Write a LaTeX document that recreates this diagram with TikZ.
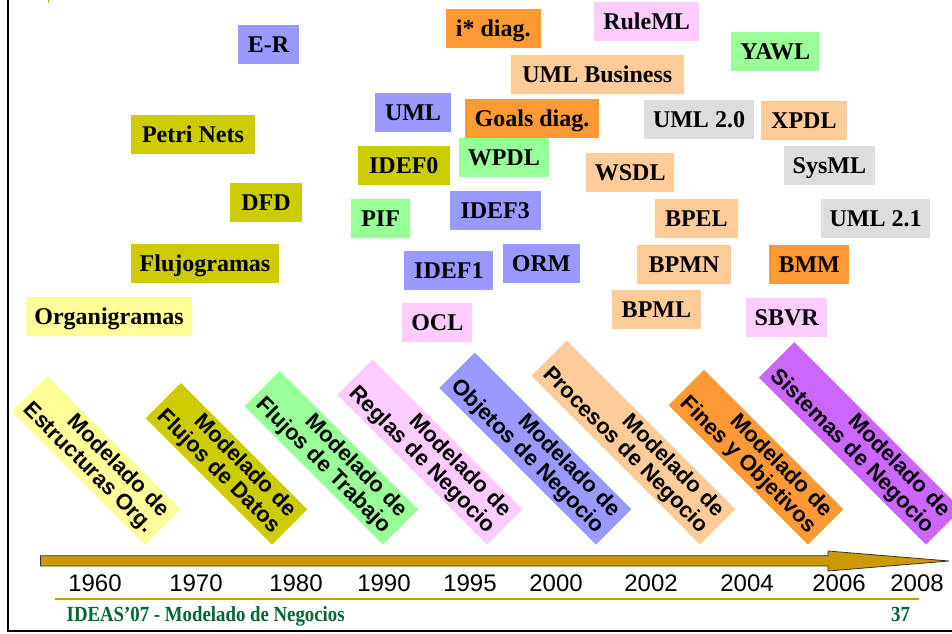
\documentclass[tikz,border=0pt]{standalone}
\usepackage{fontspec}
\setmainfont{Liberation Serif}
\newfontfamily\arialf{Liberation Sans}
\usepackage{graphicx}
\definecolor{cYel}{HTML}{FFFF99}
\definecolor{cOli}{HTML}{CCCC00}
\definecolor{cGrn}{HTML}{99FF99}
\definecolor{cPnk}{HTML}{FFCCFF}
\definecolor{cBlu}{HTML}{9999FF}
\definecolor{cPch}{HTML}{FFCC99}
\definecolor{cOrg}{HTML}{FF9933}
\definecolor{cPur}{HTML}{CC66FF}
\definecolor{cGry}{HTML}{DDDDDD}
\definecolor{cGold}{HTML}{CC9900}
\definecolor{cEdge}{HTML}{333333}
\definecolor{cFoot}{HTML}{006633}
\tikzset{
  lbl/.style={font=\bfseries\fontsize{24}{24}\selectfont, inner sep=0pt,
    minimum height=38.7pt, text height=17pt, text depth=1pt},
  era/.style={rotate=-45, anchor=south east, align=right,
    font=\arialf\bfseries\fontsize{22}{22.5}\selectfont,
    inner xsep=7.5pt, inner ysep=3.5pt},
  yr/.style={anchor=base, font=\arialf\fontsize{24}{24}\selectfont, inner sep=0pt},
  foot/.style={anchor=base, text=cFoot, inner sep=0pt}
}
\begin{document}
\begin{tikzpicture}[x=1pt,y=-1pt]
\useasboundingbox (0,0) rectangle (952,633);
\fill[white] (0,0) rectangle (952,633);
% tiny mark at top
\fill[cGold] (47.5,0) rectangle (49,2.5);
% frame
\draw[line width=2pt] (8,-5) -- (8,631) -- (960,631);

% labelled boxes
\node[lbl, fill=cBlu, minimum width=61pt]    (er)   at (268.5,44.3) {E-R};
\node[lbl, fill=cOli, minimum width=124pt]   (pn)   at (193,134.3) {Petri Nets};
\node[lbl, fill=cOli, minimum width=72pt]    (dfd)  at (266,202.3) {DFD};
\node[lbl, fill=cOli, minimum width=148pt]   (flu)  at (205,263.3) {Flujogramas};
\node[lbl, fill=cYel, minimum width=166pt]   (org)  at (109,316.3) {Organigramas};
\node[lbl, fill=cOrg, minimum width=95.4pt]  (istar) at (493.2,28.3) {i* diag.};
\node[lbl, fill=cPnk, minimum width=104.8pt] (rule) at (646.6,21.3) {RuleML};
\node[lbl, fill=cGrn, minimum width=88.4pt]  (yawl) at (775.2,51.3) {YAWL};
\node[lbl, fill=cPch, minimum width=172.7pt] (umlb) at (597.3,74.3) {UML Business};
\node[lbl, fill=cBlu, minimum width=75.3pt]  (uml)  at (413,112.3) {UML};
\node[lbl, fill=cOrg, minimum width=134.5pt] (goal) at (532,118.3) {Goals diag.};
\node[lbl, fill=cGry, minimum width=110.7pt] (umlii) at (699,119.3) {UML 2.0};
\node[lbl, fill=cPch, minimum width=85.2pt]  (xpdl) at (803.9,120.3) {XPDL};
\node[lbl, fill=cOli, minimum width=91.5pt]  (idefo) at (403.8,165.3) {IDEF0};
\node[lbl, fill=cGrn, minimum width=90.6pt]  (wpdl) at (503.8,157.3) {WPDL};
\node[lbl, fill=cPch, minimum width=87.5pt]  (wsdl) at (630.2,172.3) {WSDL};
\node[lbl, fill=cGry, minimum width=90.7pt]  (sysml) at (829.4,165.3) {SysML};
\node[lbl, fill=cGrn, minimum width=59.2pt]  (pif)  at (380.6,218.3) {PIF};
\node[lbl, fill=cBlu, minimum width=91.4pt]  (idefiii) at (495.2,210.3) {IDEF3};
\node[lbl, fill=cPch, minimum width=83.6pt]  (bpel) at (696.4,218.3) {BPEL};
\node[lbl, fill=cGry, minimum width=108.2pt] (umlxi) at (875.5,218.3) {UML 2.1};
\node[lbl, fill=cBlu, minimum width=89.1pt]  (idefi) at (448.9,270.3) {IDEF1};
\node[lbl, fill=cBlu, minimum width=76.9pt]  (orm)  at (541.3,263.3) {ORM};
\node[lbl, fill=cPch, minimum width=93.3pt]  (bpmn) at (684,264.3) {BPMN};
\node[lbl, fill=cOrg, minimum width=80pt]    (bmm)  at (809.2,264.3) {BMM};
\node[lbl, fill=cPch, minimum width=88.2pt]  (bpml) at (656.4,309.3) {BPML};
\node[lbl, fill=cPnk, minimum width=69.8pt]  (ocl)  at (437.3,322.3) {OCL};
\node[lbl, fill=cPnk, minimum width=81.3pt]  (sbvr) at (786.7,317.3) {SBVR};

% rotated era boxes
\node[era, fill=cYel] (e1) at (145,545) {Modelado de\\Estructuras Org.};
\node[era, fill=cOli] (e2) at (272,545) {Modelado de\\Flujos de Datos};
\node[era, fill=cGrn] (e3) at (383,545) {Modelado de\\Flujos de Trabajo};
\node[era, fill=cPnk] (e4) at (487,545) {Modelado de\\Reglas de Negocio};
\node[era, fill=cBlu] (e5) at (596,545) {Modelado de\\Objetos de Negocio};
\node[era, fill=cPch] (e6) at (700,545) {Modelado de\\Procesos de Negocio};
\node[era, fill=cOrg] (e7) at (808,545) {Modelado de\\Fines y Objetivos};
\node[era, fill=cPur] (e8) at (926,545) {Modelado de\\Sistemas de Negocio};

% time arrow
\filldraw[fill=cGold, draw=cEdge, line width=0.8pt]
  (40.5,555.7) -- (828,555.7) -- (828,551) -- (949,561) -- (828,571)
  -- (828,566) -- (40.5,566) -- cycle;

% years
\node[yr] (y1960) at (95,591) {1960};
\node[yr] (y1970) at (196,591) {1970};
\node[yr] (y1980) at (296,591) {1980};
\node[yr] (y1990) at (384,591) {1990};
\node[yr] (y1995) at (470,591) {1995};
\node[yr] (y2000) at (556,591) {2000};
\node[yr] (y2002) at (651,591) {2002};
\node[yr] (y2004) at (747,591) {2004};
\node[yr] (y2006) at (839,591) {2006};
\node[yr] (y2008) at (917,591) {2008};

% footer
\draw[cGold, line width=1.5pt] (55,599) -- (919,599);
\node[foot, anchor=base west] (ftxt) at (66.5,621)
  {\scalebox{0.875}[1]{\bfseries\fontsize{21.5}{21.5}\selectfont IDEAS’07 - Modelado de Negocios}};
\node[foot] (fpg) at (900.5,621)
  {\scalebox{0.875}[1]{\bfseries\fontsize{21.5}{21.5}\selectfont 37}};
\end{tikzpicture}
\end{document}
